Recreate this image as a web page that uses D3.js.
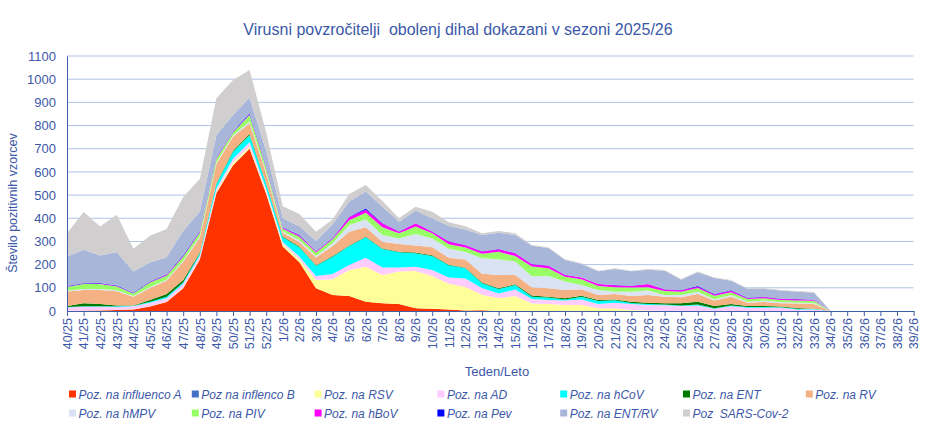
<!DOCTYPE html>
<html>
<head>
<meta charset="utf-8">
<script src="https://cdn.jsdelivr.net/npm/d3@7/dist/d3.min.js"></script>
<style>
  body { margin: 0; background: #fff; }
  svg { display: block; }
  text { font-family: "Liberation Sans", Arial, sans-serif; }
</style>
</head>
<body>
<svg id="chart" width="949" height="435"></svg>
<script>
const weeks = ["40/25","41/25","42/25","43/25","44/25","45/25","46/25","47/25","48/25","49/25","50/25","51/25","52/25",
  "1/26","2/26","3/26","4/26","5/26","6/26","7/26","8/26","9/26","10/26","11/26","12/26","13/26","14/26","15/26",
  "16/26","17/26","18/26","19/26","20/26","21/26","22/26","23/26","24/26","25/26","26/26","27/26","28/26","29/26",
  "30/26","31/26","32/26","33/26","34/26","35/26","36/26","37/26","38/26","39/26"];

const yTicks = [0,100,200,300,400,500,600,700,800,900,1000,1100];

const seriesNames = ["Poz. na influenco A","Poz na inflenco B","Poz. na RSV","Poz. na AD","Poz. na hCoV","Poz. na ENT","Poz. na RV",
  "Poz. na hMPV","Poz. na PIV","Poz. na hBoV","Poz. na Pev","Poz. na ENT/RV","Poz  SARS-Cov-2"];
const seriesColors = ["#FF3300","#4472C4","#FFFF99","#FFCCFF","#00FFFF","#007A00","#F4B183",
  "#DAE3F3","#99FF66","#FF00FF","#0000FF","#A8B6DA","#D0CECE"];

const fluA  = [0,1,2,4,7,19,39,98,222,508,628,700,505,278,210,98,69,65,40,33,30,12,10,6,2,3,0,0,0,0,0,0,0,0,0,0,0,0,0,0,0,0,0,0,0,0,0];
const fluB  = [0,0,0,0,0,0,0,0,0,1,1,1,1,0,0,0,0,0,0,0,0,0,0,0,0,0,0,0,0,0,0,0,0,0,0,0,0,0,0,0,0,0,0,0,0,0,0];
const rsv   = [1,1,1,1,1,1,2,3,3,6,12,9,8,10,13,36,68,112,151,122,140,161,141,112,102,67,55,65,32,30,26,26,12,12,4,2,1,0,0,0,0,0,0,0,0,0,0];
const ad    = [14,16,15,12,12,16,14,17,14,13,16,18,12,10,12,17,23,21,39,33,18,18,26,26,36,29,21,28,20,17,19,24,18,24,26,24,24,22,24,10,20,14,14,14,7,6,0];
const hcov  = [2,3,3,3,3,4,7,6,9,20,30,30,22,20,40,44,74,82,88,79,65,58,60,53,44,21,19,19,9,11,5,12,13,10,5,4,3,2,4,2,4,3,3,2,3,3,0];
const ent   = [5,12,9,4,1,7,11,10,4,3,4,5,3,3,3,2,3,3,2,3,3,3,3,3,3,3,3,3,6,4,5,4,4,4,5,6,5,9,12,10,6,5,5,3,3,1,0];
const rv    = [62,58,61,61,38,52,58,78,64,83,61,47,42,17,20,34,43,59,41,29,33,31,35,30,35,38,57,40,35,36,36,28,22,23,25,33,29,26,33,23,32,14,17,14,19,20,0];
const hmpv  = [3,4,4,4,3,4,4,5,6,5,5,7,7,5,8,6,12,29,34,29,24,49,38,39,33,67,68,58,48,53,36,18,22,10,18,19,7,10,10,5,7,4,6,6,4,5,0];
const piv   = [17,21,21,17,10,20,17,17,17,18,13,28,18,12,14,15,18,21,29,33,22,32,22,19,19,19,33,24,42,33,21,25,17,19,18,14,17,14,16,16,12,12,10,8,9,9,0];
const hbov  = [2,2,3,2,2,2,3,3,3,3,2,4,3,3,6,5,3,13,13,17,7,14,7,12,10,10,10,12,10,11,7,7,8,9,7,14,7,7,6,5,6,3,5,5,6,3,0];
const pev   = [2,2,2,2,2,2,2,3,3,2,2,4,3,2,2,1,2,2,5,2,1,1,1,1,1,1,1,1,1,1,1,1,1,1,1,1,1,1,3,2,3,2,1,1,1,1,0];
const entrv = [127,144,118,144,91,82,75,106,83,97,71,67,66,40,38,44,59,65,73,70,42,54,57,66,67,70,71,78,78,76,64,58,54,69,62,61,80,44,59,69,41,38,34,35,31,31,0];
const sars  = [100,163,125,161,98,116,122,146,141,159,151,120,80,52,52,40,21,33,28,25,15,17,28,16,14,7,7,7,4,3,3,3,3,3,3,3,3,3,3,3,3,3,3,3,3,3,0];

const seriesValues = [fluA, fluB, rsv, ad, hcov, ent, rv, hmpv, piv, hbov, pev, entrv, sars];

const textColor = "#3C58A8";
const svg = d3.select("#chart");

const x = d3.scalePoint().domain(weeks).range([67, 913.6]).padding(0);
const y = d3.scaleLinear().domain([0, 1100]).range([311, 56]);

// gridlines
svg.append("g").selectAll("line").data(yTicks.filter(d => d > 0)).join("line")
  .attr("x1", 67).attr("x2", 913.6)
  .attr("y1", d => y(d)).attr("y2", d => y(d))
  .attr("stroke", "#AFC2E6").attr("stroke-width", 1);

// stacked data
const nPts = fluA.length;
const table = d3.range(nPts).map(i => {
  const row = {week: weeks[i]};
  seriesNames.forEach((n, k) => row[n] = seriesValues[k][i]);
  return row;
});
const stack = d3.stack().keys(seriesNames);
const layers = stack(table);

const area = d3.area()
  .x(d => x(d.data.week))
  .y0(d => y(d[0]))
  .y1(d => y(d[1]))
  .curve(d3.curveLinear);

svg.append("g").selectAll("path").data(layers).join("path")
  .attr("d", area)
  .attr("fill", (d, i) => seriesColors[i])
  .attr("stroke", "none");

// y axis
const yAxis = d3.axisLeft(y).tickValues(yTicks).tickFormat(d3.format("d")).tickSize(0).tickPadding(11);
const gy = svg.append("g").attr("transform", "translate(67,0)").call(yAxis);
gy.select(".domain").attr("stroke", "#3F5FA8");
gy.selectAll("text").attr("fill", textColor).style("font-size", "13px")
  .style("font-family", '"Liberation Sans", Arial, sans-serif');

// x axis
const xAxis = d3.axisBottom(x).tickSize(5).tickSizeOuter(0).tickPadding(4);
const gx = svg.append("g").attr("transform", "translate(0,311)").call(xAxis);
gx.select(".domain").attr("stroke", "#3F5FA8");
gx.selectAll(".tick line").attr("stroke", "#3F5FA8");
gx.selectAll("text")
  .attr("fill", textColor)
  .style("font-size", "12.5px")
  .style("font-family", '"Liberation Sans", Arial, sans-serif')
  .attr("transform", "rotate(-90)")
  .attr("text-anchor", "end")
  .attr("x", -7)
  .attr("y", 0)
  .attr("dy", "0.35em");

// title
svg.append("text").attr("x", 458).attr("y", 35).attr("text-anchor", "middle")
  .attr("fill", textColor).style("font-size", "16px")
  .style("white-space", "pre")
  .text("Virusni povzročitelji  obolenj dihal dokazani v sezoni 2025/26");

// y label
svg.append("text").attr("transform", "translate(17,203) rotate(-90)")
  .attr("text-anchor", "middle").attr("fill", textColor).style("font-size", "12.5px")
  .text("Število pozitivnih vzorcev");

// x label
svg.append("text").attr("x", 497).attr("y", 376).attr("text-anchor", "middle")
  .attr("fill", textColor).style("font-size", "13px")
  .text("Teden/Leto");

// legend
const legend = svg.append("g");
seriesNames.forEach((n, k) => {
  const row = k < 7 ? 0 : 1;
  const col = k < 7 ? k : k - 7;
  const lx = 69 + col * 122.8;
  const ly = row === 0 ? 394 : 413;
  const g = legend.append("g").attr("transform", `translate(${lx},${ly})`);
  g.append("rect").attr("x", 0).attr("y", -3.5).attr("width", 7).attr("height", 7).attr("fill", seriesColors[k]);
  g.append("text").attr("x", 9.5).attr("y", 4.5).attr("fill", textColor)
    .style("font-size", "12px").style("font-style", "italic").style("white-space", "pre").text(n);
});
</script>
</body>
</html>
